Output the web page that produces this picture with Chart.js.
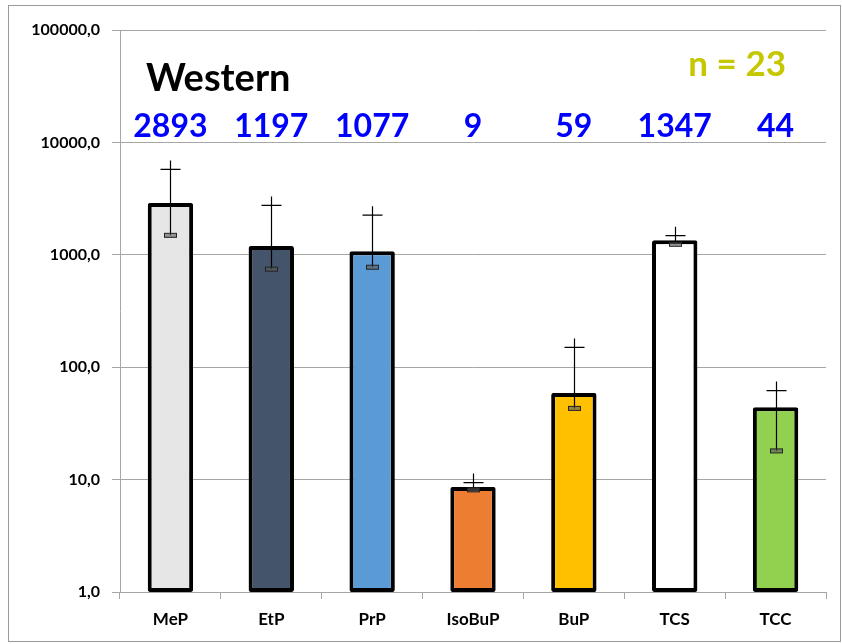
<!DOCTYPE html>
<html>
<head>
<meta charset="utf-8">
<script src="https://cdn.jsdelivr.net/npm/chart.js@4.4.1/dist/chart.umd.min.js"></script>
<style>
    html, body { margin: 0; padding: 0; background: #fff; }
    #wrap { width: 842px; height: 644px; position: relative; }
</style>
</head>
<body>
<div id="wrap"><canvas id="chart" width="842" height="644"></canvas></div>
<script>
// parabenos + triclosan / triclocarban, região oeste
const categorias = ['MeP', 'EtP', 'PrP', 'IsoBuP', 'BuP', 'TCS', 'TCC'];
const medias = [2893, 1197, 1077, 8.6, 59, 1347, 44];
const limiteSup = [5750, 2750, 2250, 9.4, 150, 1480, 62];
const limiteInf = [1490, 745, 775, 8.1, 43, 1240, 18];
const cores = ['#e6e6e6', '#44546a', '#5b9bd5', '#ed7d31', '#ffc000', '#ffffff', '#92d050'];
const ticksY = [1, 10, 100, 1000, 10000, 100000];
const titulo = 'Western';
const amostras = 'n = 23';

const FONTE = "Lato, 'Open Sans', sans-serif";

// moldura cinza em volta do gráfico
const moldura = {
    id: 'moldura',
    beforeDraw(chart) {
        const ctx = chart.ctx;
        ctx.save();
        ctx.fillStyle = '#fff';
        ctx.fillRect(0, 0, chart.width, chart.height);
        ctx.strokeStyle = '#9a9a9a';
        ctx.lineWidth = 1;
        ctx.strokeRect(8.5, 5.5, chart.width - 10, chart.height - 8);
        ctx.restore();
    },
};

// barras de erro: linha vertical, cruz no topo e marcador pequeno embaixo
const barrasErro = {
    id: 'barrasErro',
    afterDatasetsDraw(chart) {
        const ctx = chart.ctx;
        const y = chart.scales.y;
        const meta = chart.getDatasetMeta(0);
        ctx.save();
        meta.data.forEach((bar, i) => {
            const x = Math.round(bar.x) + 0.5;
            const yTop = y.getPixelForValue(limiteSup[i]);
            const yLow = y.getPixelForValue(limiteInf[i]);
            ctx.strokeStyle = '#000';
            ctx.lineWidth = 1.2;
            ctx.beginPath();
            ctx.moveTo(x, yLow);
            ctx.lineTo(x, yTop - 9);
            ctx.moveTo(x - 10, yTop);
            ctx.lineTo(x + 10, yTop);
            ctx.stroke();
            // marcador do limite inferior
            ctx.fillStyle = 'rgba(90,90,90,0.6)';
            ctx.fillRect(x - 6, yLow - 2, 12, 4);
            ctx.lineWidth = 1;
            ctx.strokeStyle = '#222';
            ctx.strokeRect(x - 6, yLow - 2, 12, 4);
        });
        ctx.restore();
    },
};

// textos: título, n e valores acima das barras
const textos = {
    id: 'textos',
    afterDraw(chart) {
        const ctx = chart.ctx;
        const area = chart.chartArea;
        const meta = chart.getDatasetMeta(0);
        ctx.save();
        ctx.textBaseline = 'middle';
        ctx.font = 'bold 38px ' + FONTE;
        ctx.fillStyle = '#000';
        ctx.textAlign = 'left';
        ctx.fillText(titulo, 146, area.top + 49);
        ctx.font = 'bold 35px ' + FONTE;
        ctx.fillStyle = '#c5c800';
        ctx.textAlign = 'right';
        ctx.fillText(amostras, 786, area.top + 35);
        ctx.font = 'bold 32px ' + FONTE;
        ctx.fillStyle = '#0000ff';
        ctx.textAlign = 'center';
        meta.data.forEach((bar, i) => {
            ctx.fillText(String(Math.round(medias[i])), bar.x, area.top + 97);
        });
        ctx.restore();
    },
};

new Chart(document.getElementById('chart'), {
    type: 'bar',
    data: {
        labels: categorias,
        datasets: [
            {
                data: medias,
                backgroundColor: cores,
                borderColor: '#000',
                borderWidth: 4,
                borderSkipped: false,
                borderRadius: 2,
                categoryPercentage: 1,
                barPercentage: 0.45,
            },
        ],
    },
    options: {
        responsive: false,
        animation: false,
        layout: { padding: { top: 30, right: 16, bottom: 0, left: 0 } },
        plugins: {
            legend: { display: false },
            tooltip: { enabled: false },
        },
        scales: {
            x: {
                grid: {
                    offset: true,
                    drawOnChartArea: false,
                    drawTicks: true,
                    tickLength: 7,
                    color: '#a6a6a6',
                },
                border: { color: '#a6a6a6' },
                ticks: {
                    color: '#000',
                    font: { family: FONTE, size: 17, weight: 'bold' },
                    padding: 10,
                },
                afterFit(scale) {
                    scale.height = 52;
                },
            },
            y: {
                type: 'logarithmic',
                min: 1,
                max: 100000,
                grid: { color: '#a6a6a6', tickLength: 8 },
                border: { color: '#a6a6a6' },
                afterBuildTicks(scale) {
                    scale.ticks = ticksY.map((v) => ({ value: v }));
                },
                ticks: {
                    color: '#000',
                    font: { family: FONTE, size: 16, weight: 'bold' },
                    padding: 12,
                    callback: (v) => v.toFixed(1).replace('.', ','),
                },
                afterFit(scale) {
                    scale.width = 120;
                },
            },
        },
    },
    plugins: [moldura, barrasErro, textos],
});
</script>
</body>
</html>
